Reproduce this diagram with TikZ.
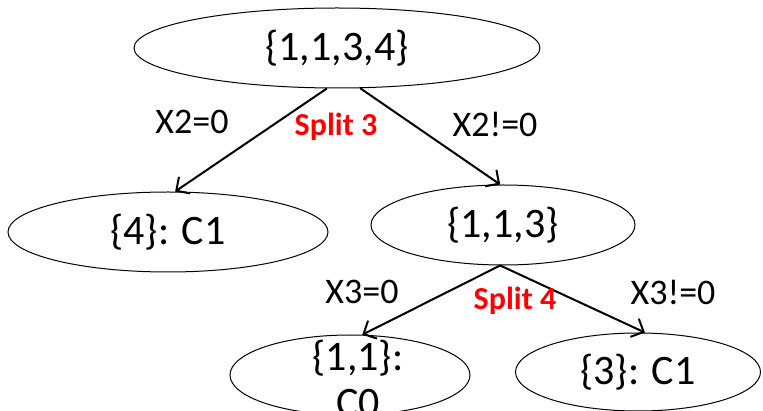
\documentclass[tikz,border=0pt]{standalone}
\usepackage{fontspec}
\setmainfont{Carlito}
\usetikzlibrary{shapes.geometric,arrows.meta}
\begin{document}
\begin{tikzpicture}[x=1pt,y=-1pt,
  setnode/.style={draw,ellipse,line width=1pt,inner sep=0pt,font=\fontsize{42}{46}\selectfont},
  edgelabel/.style={font=\fontsize{36}{40}\selectfont},
  splitlabel/.style={font=\fontsize{32}{35}\selectfont\bfseries,text=red},
  branch/.style={line width=2pt,-{Straight Barb[length=10pt,width=20pt,line width=2pt]}}]
  \useasboundingbox (0,0) rectangle (763,411);
  % tree nodes
  \node[setnode,minimum width=406pt,minimum height=80pt] (root) at (337,48) {\{1,1,3,4\}};
  \node[setnode,minimum width=320pt,minimum height=80pt] (n4) at (168,232) {\{4\}: C1};
  \node[setnode,minimum width=264pt,minimum height=80pt] (n113) at (503,225) {\{1,1,3\}};
  \node[setnode,minimum width=240pt,minimum height=80pt] (n11) at (350,375) {};
  \node[font=\fontsize{42}{46}\selectfont,align=center] (n11text) at (358,378) {\{1,1\}:\\C0};
  \node[setnode,minimum width=245pt,minimum height=78pt] (n3) at (638,372) {\{3\}: C1};
  % branches
  \draw[branch] (root.256) -- (n4.80);
  \draw[branch] (root.300) -- (n113.94);
  \draw[branch] (n113.266) -- (n11.73);
  \draw[branch] (n113.266) -- (n3.80);
  % branch labels
  \node[edgelabel] (l1) at (192,122) {X2=0};
  \node[edgelabel] (l2) at (495,124) {X2!=0};
  \node[splitlabel] (s3) at (336,127) {Split 3};
  \node[edgelabel] (l3) at (362,292) {X3=0};
  \node[edgelabel] (l4) at (673,292) {X3!=0};
  \node[splitlabel] (s4) at (515,301) {Split 4};
\end{tikzpicture}
\end{document}
